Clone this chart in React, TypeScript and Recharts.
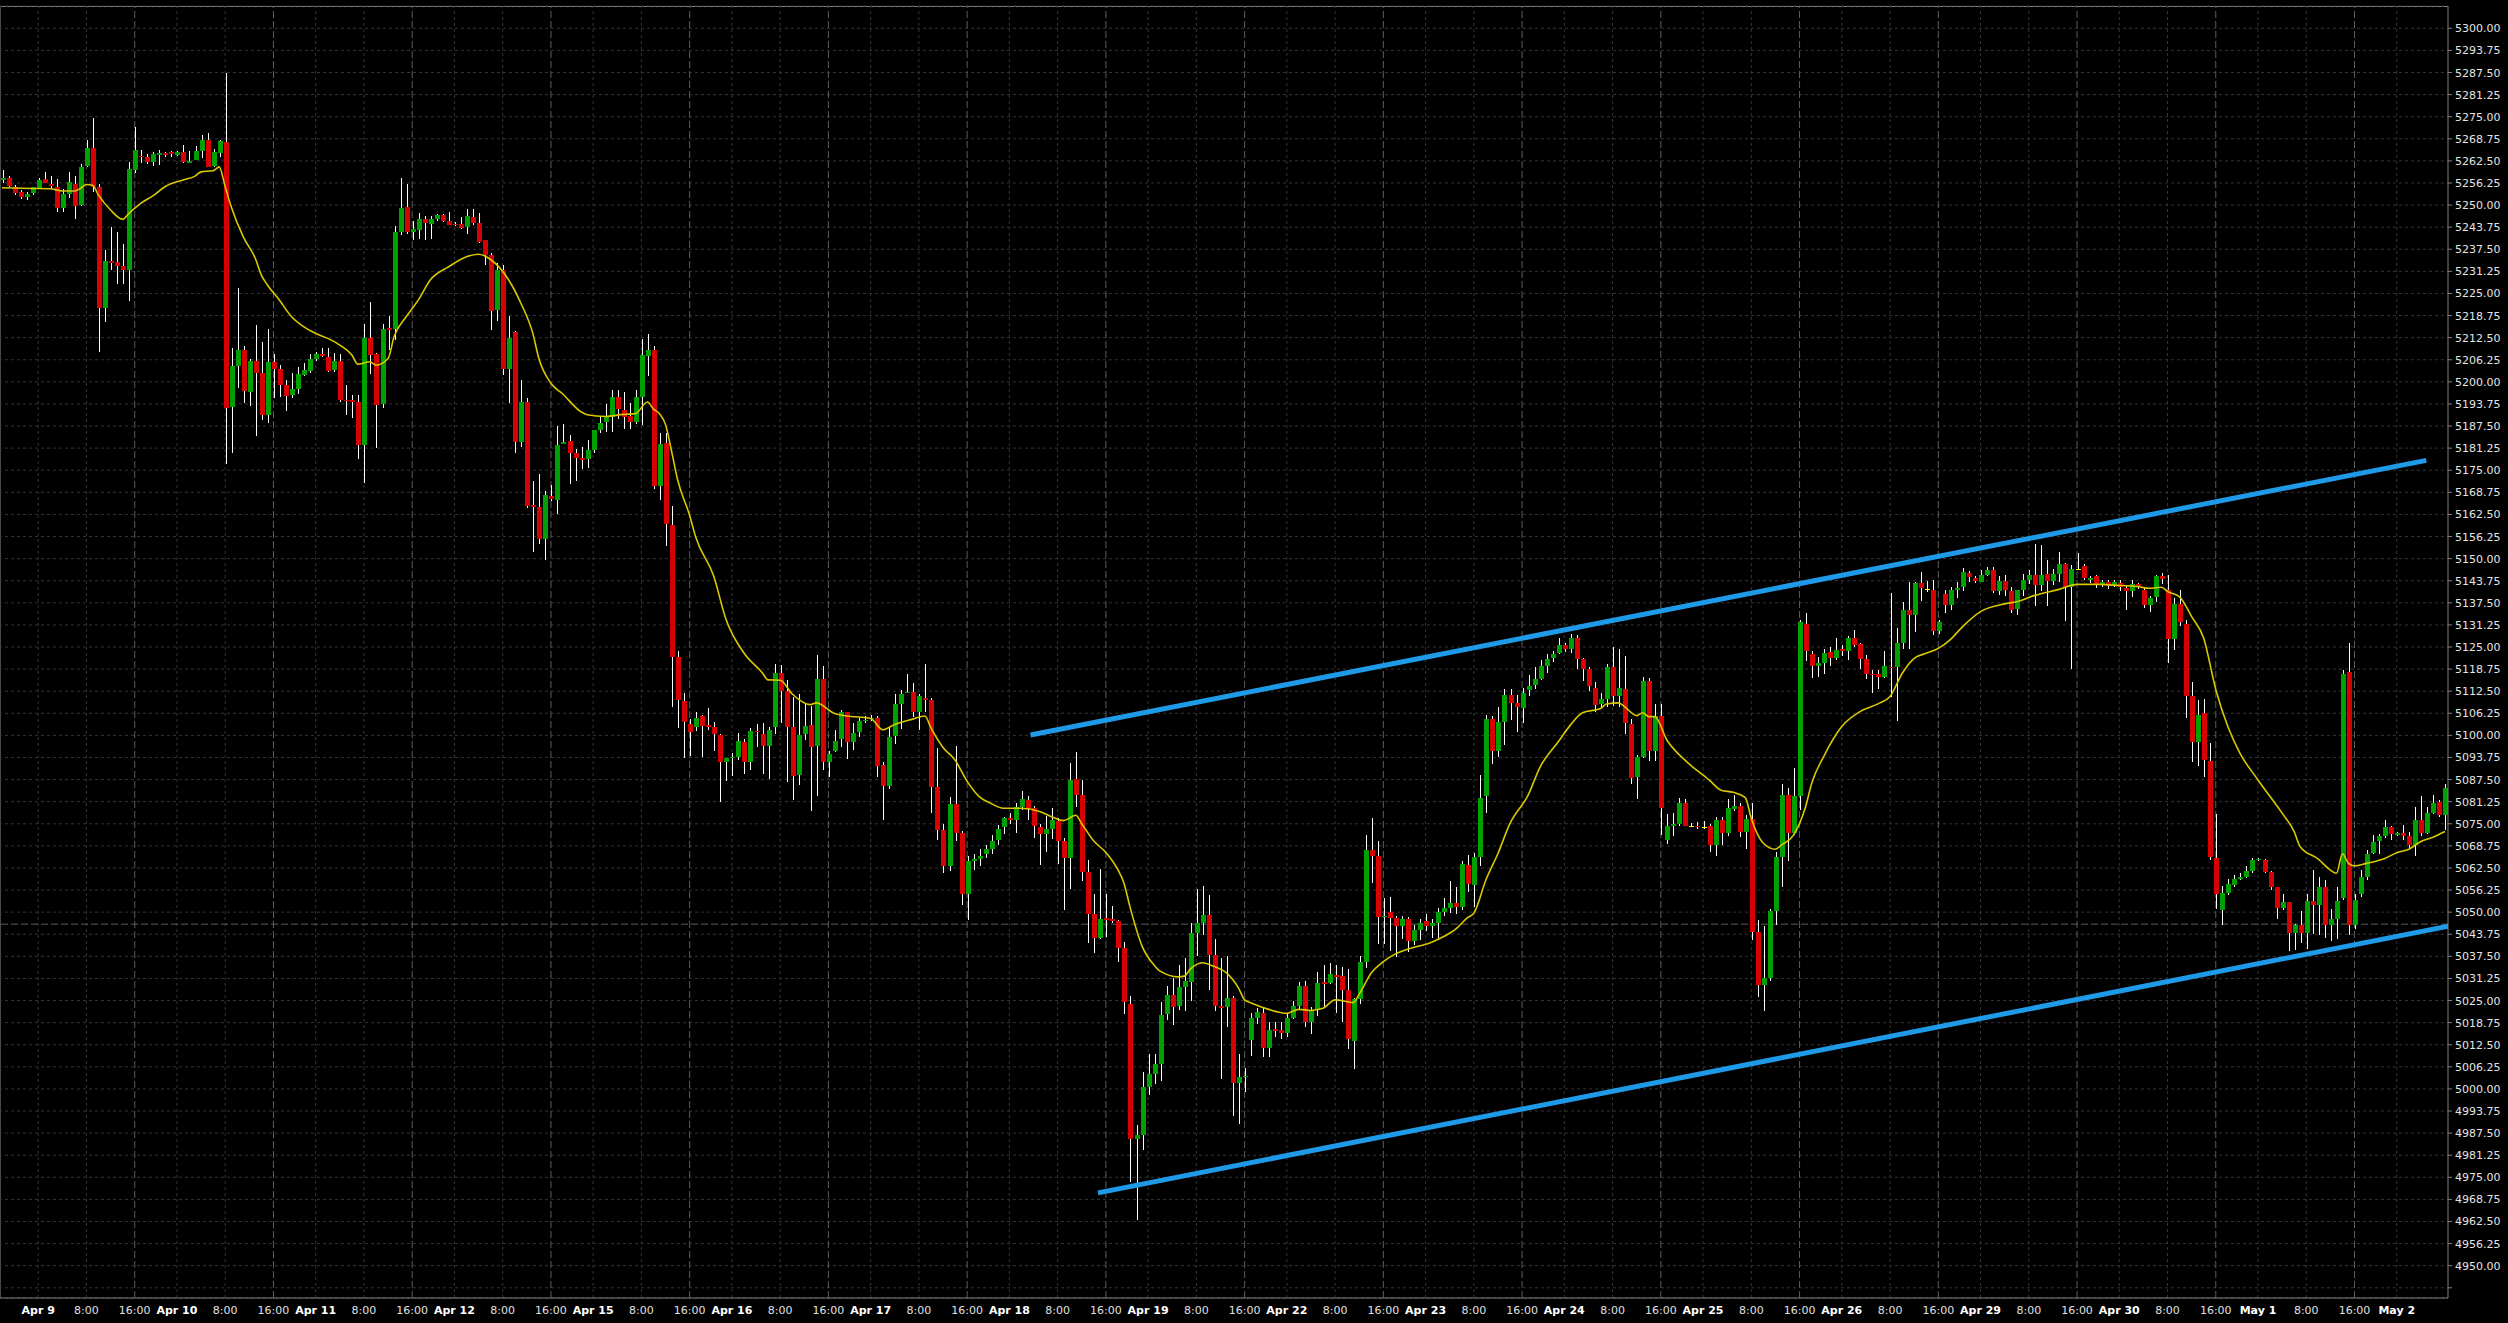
import {
  ComposedChart,
  Bar,
  Line,
  XAxis,
  YAxis,
  CartesianGrid,
  ReferenceLine,
} from "recharts";

// hourly bars, 23 per session; bars 0..5 are Apr 8 18:00-23:00
const DAYS = [
  "Apr 9", "Apr 10", "Apr 11", "Apr 12", "Apr 15", "Apr 16", "Apr 17", "Apr 18", "Apr 19",
  "Apr 22", "Apr 23", "Apr 24", "Apr 25", "Apr 26", "Apr 29", "Apr 30", "May 1", "May 2",
];
const FIRST_MIDNIGHT = 6;
const BARS_PER_DAY = 23;

// [open, high, low, close]
const CANDLES: [number, number, number, number][] = [
  // Apr 8 evening
  [5257, 5260, 5256.25, 5257.75], [5257.75, 5258.25, 5255.25, 5255.5], [5255.25, 5255.75, 5253, 5253.5],
  [5253.75, 5254.25, 5251.75, 5252.25], [5252.25, 5253.75, 5251.5, 5253], [5253.5, 5255.25, 5253, 5255],
  // Apr 9
  [5254.75, 5257.75, 5254.5, 5257], [5257.25, 5259.25, 5256, 5256.25], [5256, 5258.25, 5254.5, 5255.5],
  [5255.25, 5257.5, 5248.25, 5249.25], [5249.25, 5254.5, 5248, 5253.25], [5253.25, 5259.25, 5252, 5256.5],
  [5256, 5258.25, 5246, 5249.75], [5250, 5261.5, 5249.75, 5260.75], [5261, 5268.5, 5260.75, 5266.25],
  [5266.25, 5274.5, 5253.5, 5255.25], [5255.25, 5256, 5208.5, 5221], [5220.75, 5237.25, 5217, 5234.25],
  [5234.25, 5243.75, 5231.5, 5233.75], [5234, 5242.5, 5227.75, 5232.75], [5232.75, 5239, 5227.75, 5231.5],
  [5231.5, 5262.25, 5223, 5260.25], [5260, 5272, 5259, 5265.5], [5264, 5265.5, 5261.75, 5263.5],
  [5263.5, 5264.5, 5261.75, 5262.25], [5262.25, 5265, 5261, 5264.5], [5264.25, 5265.5, 5261.25, 5264.75],
  [5264.75, 5265, 5263.5, 5264.25], [5265, 5265.25, 5263.5, 5264.5],
  // Apr 10
  [5264.25, 5265.25, 5263.75, 5265], [5265, 5267, 5262, 5262.25], [5262, 5265.25, 5262, 5262.5],
  [5262.75, 5266.75, 5262.75, 5265.25], [5265.25, 5269.75, 5263.25, 5268.5], [5268.5, 5270.25, 5260.5, 5260.75],
  [5261, 5265.75, 5260.75, 5265], [5264.75, 5268.5, 5263.75, 5268], [5267.75, 5287.5, 5177, 5192.5],
  [5192.75, 5209.5, 5179.75, 5204.5], [5204.5, 5226.5, 5198.25, 5209], [5209, 5210, 5194, 5197.5],
  [5197.25, 5206.5, 5193.25, 5206], [5206, 5216, 5184.5, 5202.5], [5202.5, 5211.25, 5189.25, 5190.5],
  [5190.5, 5215, 5188.5, 5205.5], [5205.5, 5207.75, 5195.25, 5203.5], [5203.5, 5204.75, 5195.75, 5199],
  [5199, 5200.5, 5191.75, 5196], [5196.25, 5202.5, 5195.5, 5198], [5198, 5204.25, 5196.75, 5202.25],
  [5202, 5205.25, 5201.5, 5203.25], [5203, 5208, 5202.5, 5206.5],
  // Apr 11
  [5206.5, 5208.5, 5206, 5208], [5208, 5209.5, 5207, 5207.25], [5207, 5209.5, 5202.75, 5203],
  [5203.25, 5208.25, 5203, 5206], [5206, 5208, 5194.5, 5194.75], [5195, 5199, 5190.5, 5194.5],
  [5194.75, 5196.25, 5189.75, 5194.25], [5194.25, 5196.25, 5178.25, 5182], [5182, 5216.25, 5171.25, 5212.5],
  [5212.5, 5222.5, 5202, 5207.5], [5208, 5208.25, 5181.5, 5193.5], [5193.75, 5216.5, 5192.75, 5215],
  [5215.25, 5218.5, 5209, 5214.75], [5215, 5244, 5211.75, 5242.5], [5242.5, 5257.75, 5241.5, 5249.25],
  [5249.5, 5256, 5241.75, 5242.5], [5242.5, 5245.5, 5240, 5243.25], [5243, 5247.75, 5240.5, 5246],
  [5246, 5247, 5240.25, 5245], [5244.75, 5247, 5240.5, 5246], [5246, 5247.5, 5245.5, 5247.25],
  [5247.25, 5247.5, 5245.25, 5245.5], [5245.5, 5248, 5244.25, 5244.25],
  // Apr 12
  [5244.75, 5245.25, 5244, 5244.25], [5244.75, 5246.75, 5243.25, 5243.5], [5243.75, 5248.75, 5241.75, 5247],
  [5246.5, 5249, 5244.5, 5245], [5245, 5247.75, 5239.25, 5239.5], [5240, 5240.25, 5233.25, 5236],
  [5236, 5236.5, 5214.75, 5220], [5220.25, 5233.5, 5217, 5231.5], [5231.5, 5233, 5202, 5203.5],
  [5203.5, 5218.75, 5194.25, 5212.5], [5214, 5214.25, 5179.75, 5183], [5183, 5200.5, 5181.5, 5194.25],
  [5194.25, 5195.5, 5164.25, 5165], [5165.25, 5172, 5152, 5164.5], [5164.5, 5174, 5154.25, 5155.5],
  [5155.5, 5169.25, 5149.75, 5168], [5167.75, 5170.75, 5166.25, 5167], [5166.5, 5187.5, 5162.5, 5182.25],
  [5182.5, 5188, 5182.25, 5183], [5183.25, 5185, 5171.25, 5179.75], [5180, 5181, 5172, 5178.5],
  [5178.5, 5181.5, 5175.25, 5178], [5178.25, 5183.5, 5175.5, 5180.75],
  // Apr 15
  [5180.75, 5186.5, 5180, 5186.5], [5186.5, 5190, 5185.5, 5188.5], [5188.75, 5193.75, 5185.75, 5190],
  [5190, 5197.75, 5186, 5195.75], [5195.75, 5197.75, 5189.5, 5192.25], [5192, 5197, 5186.5, 5190],
  [5190.25, 5194, 5186.75, 5188.75], [5188.75, 5197.75, 5188, 5195.75], [5195.75, 5212.25, 5188, 5207.5],
  [5207.25, 5213.5, 5201.75, 5209], [5209, 5210.25, 5169.75, 5170.5], [5170.5, 5185.5, 5166.5, 5182.5],
  [5182.75, 5185.5, 5153.5, 5159.75], [5159.5, 5165, 5108.25, 5122.25], [5122.25, 5123.75, 5102, 5110],
  [5109.75, 5112, 5093.75, 5103.75], [5103.25, 5104.5, 5094, 5101], [5102.5, 5106.5, 5101, 5105],
  [5105.5, 5105.75, 5094, 5102.75], [5103, 5107.75, 5101.5, 5102.5], [5102.5, 5103.75, 5095.5, 5100.5],
  [5100, 5100.5, 5081.25, 5092.5], [5092.5, 5093.5, 5087, 5093.5],
  // Apr 16
  [5093.5, 5095, 5088.5, 5093.75], [5093.75, 5100.75, 5093, 5098.5], [5098, 5099, 5089, 5092.5],
  [5092.5, 5102, 5090, 5101.25], [5101.25, 5103.25, 5096.75, 5101], [5100.5, 5103.5, 5089, 5097],
  [5097, 5102.5, 5087.75, 5101.5], [5102.5, 5120.25, 5100.5, 5117.75], [5117.75, 5120, 5103.5, 5112.5],
  [5112.5, 5115.75, 5087, 5102.5], [5102.25, 5110.75, 5081.5, 5088.5], [5088.75, 5111.75, 5086, 5100],
  [5100.25, 5108.75, 5098.5, 5102.75], [5103, 5108.25, 5078.5, 5096.75], [5097, 5122.75, 5083, 5116],
  [5116, 5119.5, 5090, 5092.5], [5092.5, 5095.5, 5088.25, 5094.75], [5095.5, 5101.5, 5095.25, 5098.5],
  [5099, 5107.25, 5096.75, 5106.5], [5106.5, 5106.75, 5093.5, 5098.25], [5098, 5103.5, 5095.75, 5100.75],
  [5101, 5105, 5099.75, 5104], [5104, 5105.5, 5103.5, 5104.25],
  // Apr 17
  [5104.5, 5105.75, 5104, 5105], [5105, 5105.5, 5088.25, 5091.25], [5091.5, 5092.5, 5076, 5085.75],
  [5085.75, 5102.5, 5085, 5099.5], [5099.75, 5111.75, 5097.5, 5109], [5109, 5112.75, 5101.75, 5111.75],
  [5112, 5117.25, 5111.75, 5112.25], [5112.25, 5114.75, 5105, 5106.75], [5106.75, 5111.75, 5101.5, 5111],
  [5110.5, 5120.25, 5106.75, 5110], [5110, 5110.5, 5078, 5085.5], [5085.5, 5096.5, 5070.5, 5073.25],
  [5073.25, 5075, 5061, 5063], [5063, 5082.5, 5061.5, 5080.5], [5080.5, 5097, 5070, 5072.5],
  [5072.25, 5073, 5052, 5055], [5055, 5066, 5048, 5064.5], [5064.5, 5066.5, 5062, 5065],
  [5065, 5067.75, 5063, 5066], [5066.5, 5069, 5065.25, 5067.75], [5067.75, 5071.75, 5066.5, 5070],
  [5070.5, 5074.75, 5069, 5073.5], [5074, 5077, 5072.25, 5076.5],
  // Apr 18
  [5076.5, 5078, 5075, 5076], [5076, 5081, 5072.5, 5079.75], [5079.75, 5084.25, 5079, 5082],
  [5081.75, 5082.75, 5076, 5079.5], [5079.5, 5080, 5071, 5074.25], [5074, 5075, 5063.5, 5072],
  [5072, 5077.25, 5067, 5073.5], [5073.5, 5079.5, 5070.75, 5076], [5075.75, 5076.5, 5063.5, 5070],
  [5070, 5071, 5050.5, 5065.25], [5065.25, 5092.25, 5056.5, 5087.5], [5087.75, 5095.25, 5079.75, 5083],
  [5083, 5087.5, 5059, 5061.25], [5061.25, 5064.75, 5041.25, 5049.5], [5049.5, 5055, 5038.25, 5042.75],
  [5042.75, 5062.25, 5042.5, 5048], [5048.25, 5055.25, 5043, 5047.75], [5048, 5051.75, 5047, 5047.5],
  [5047.5, 5047.75, 5035.75, 5040], [5040, 5041.5, 5021, 5024.5], [5024, 5026.25, 4973.5, 4985.75],
  [4985.75, 4989.75, 4963, 4987], [4987, 5004.75, 4982.75, 5000.5],
  // Apr 19
  [5000.5, 5010, 4998.5, 5004.25], [5004.25, 5010, 5001.5, 5007], [5007, 5024.5, 5002.25, 5021],
  [5021.25, 5029.25, 5019.5, 5026.5], [5026.5, 5031.25, 5018, 5023.25], [5023.5, 5035, 5022.25, 5028.75],
  [5028.75, 5037, 5022, 5030.5], [5030.25, 5047, 5025, 5044], [5044, 5056.5, 5037.5, 5047],
  [5047, 5057.5, 5043.5, 5049.25], [5049.25, 5054.75, 5028, 5038], [5038, 5042.5, 5022.25, 5023.5],
  [5023.5, 5037, 5002.75, 5023], [5023.25, 5037.5, 5017.5, 5025.75], [5025.75, 5026.25, 4992.25, 5001.75],
  [5001.75, 5010, 4990.25, 5003.25], [5003.25, 5006, 4999.25, 5003.75], [5013.75, 5021.5, 5009.25, 5020],
  [5020, 5023, 5018.5, 5021.75], [5021.5, 5023, 5009, 5011.5], [5011.5, 5019, 5009, 5016.75],
  [5017, 5019, 5014.75, 5016.5], [5016.75, 5019, 5014.25, 5015.75],
  // Apr 22
  [5015.75, 5021.5, 5014.75, 5020], [5020, 5024.75, 5019.75, 5023.5], [5023.5, 5030.25, 5022.5, 5029.25],
  [5029.25, 5030.5, 5017.5, 5019], [5019, 5023.25, 5015.5, 5022.25], [5022.25, 5033, 5020.5, 5030],
  [5030.25, 5035, 5022.75, 5029.75], [5030, 5035.75, 5029.75, 5032.5], [5032.25, 5035, 5021.5, 5031.75],
  [5032, 5034.5, 5019, 5028], [5028, 5034, 5011.25, 5014], [5013.5, 5025.75, 5005.75, 5025.5],
  [5025.5, 5037.5, 5024, 5036], [5036, 5071.75, 5034, 5067.5], [5067.5, 5076.75, 5058.5, 5066],
  [5066, 5070, 5040.75, 5048.75], [5048.75, 5054, 5041, 5049], [5050, 5054.25, 5039, 5048.25],
  [5048.25, 5049, 5037.5, 5046], [5046, 5049, 5042.5, 5048], [5048, 5048.75, 5038.75, 5041.75],
  [5041.75, 5046.25, 5040.5, 5045], [5045, 5048, 5042, 5047],
  // Apr 23
  [5047.5, 5049.5, 5044.75, 5046], [5046, 5048, 5042.5, 5047], [5047, 5051.25, 5042.25, 5050],
  [5050, 5054, 5049, 5051.25], [5051.25, 5058.75, 5049.75, 5052.5], [5052.5, 5057.25, 5049.5, 5051.5],
  [5051.5, 5064.5, 5050.75, 5063.75], [5063.25, 5066.25, 5055.75, 5058], [5057.75, 5066.75, 5051.5, 5065.5],
  [5065.5, 5088.75, 5063, 5082.25], [5082.75, 5105.75, 5078, 5104.5], [5104.5, 5105.5, 5092, 5095.5],
  [5095.5, 5108, 5093.75, 5103.75], [5103.75, 5113, 5097.25, 5111.5], [5111.5, 5113, 5104.25, 5109.25],
  [5109.25, 5111.5, 5101, 5108], [5107.75, 5113.5, 5103.5, 5112], [5112.75, 5117, 5111, 5114],
  [5114.25, 5119.25, 5113, 5116], [5116, 5121.25, 5115.5, 5119.5], [5119.5, 5123, 5117.75, 5121.5],
  [5122, 5124, 5121, 5123], [5123.25, 5127.5, 5123, 5125.5],
  // Apr 24
  [5125.5, 5126, 5123.5, 5124.5], [5124.5, 5128.75, 5123.5, 5127.5], [5127.5, 5128.5, 5119, 5121.5],
  [5121.5, 5122, 5115.5, 5118.75], [5118.75, 5119.25, 5112.5, 5114], [5113.5, 5115, 5106.5, 5108.5],
  [5109, 5112, 5107.75, 5110.25], [5110.25, 5120.25, 5108, 5119.25], [5119.25, 5125, 5108.25, 5111],
  [5111, 5124.5, 5108, 5113.5], [5113.25, 5122.5, 5100.5, 5103.5], [5103.25, 5104.75, 5086.5, 5088],
  [5088.25, 5094.5, 5082, 5093.75], [5094, 5116.5, 5093.5, 5115.5], [5115.5, 5116.25, 5092.75, 5095.5],
  [5095.5, 5109, 5093, 5105.5], [5105.5, 5109, 5072, 5079.5], [5070.5, 5077.75, 5069.25, 5074.25],
  [5074.25, 5078, 5071.5, 5075], [5075, 5082.25, 5074.25, 5080.75], [5080.75, 5082, 5074.25, 5074.5],
  [5074.5, 5075.25, 5074.25, 5074.5], [5074.5, 5075.5, 5073.5, 5074],
  // Apr 25
  [5074, 5075.75, 5073.5, 5074], [5074.25, 5075, 5067, 5069], [5069, 5077, 5066, 5076],
  [5076, 5077, 5069, 5072.5], [5072.5, 5082, 5071.5, 5079.5], [5079.25, 5083, 5078.5, 5080],
  [5080, 5080.75, 5071, 5072.75], [5072.75, 5077.5, 5068, 5076.25], [5076.25, 5080.75, 5042, 5044.5],
  [5044.5, 5047.75, 5026, 5029.5], [5029.5, 5046, 5022, 5031.5], [5031.5, 5051, 5030.5, 5050.25],
  [5050.25, 5067, 5046.25, 5065.5], [5065.5, 5086.25, 5057.25, 5083], [5083, 5085, 5064.25, 5072.5],
  [5072.5, 5090.75, 5071.75, 5082.75], [5082.75, 5132.5, 5078.75, 5132], [5131.5, 5134.75, 5121.25, 5123.75],
  [5123, 5124, 5116.5, 5119.5], [5119.5, 5122.25, 5116.5, 5120.5], [5120.5, 5124.5, 5117.5, 5123.25],
  [5123.5, 5125, 5119.5, 5121.75], [5121.75, 5127.5, 5121.25, 5124.25],
  // Apr 26
  [5124.5, 5125.5, 5122.25, 5124], [5124, 5128, 5121.25, 5127.5], [5127.5, 5129.75, 5125, 5125.5],
  [5125.75, 5126.25, 5119, 5121.5], [5121.5, 5122.75, 5116, 5117.5], [5117.5, 5118.5, 5112, 5117],
  [5117.5, 5118.5, 5113.25, 5116.5], [5116.5, 5123.75, 5116.25, 5119.5], [5119.25, 5140.25, 5110.75, 5119],
  [5119.25, 5130.25, 5104, 5126], [5126.25, 5137.75, 5124.5, 5135.5], [5135.5, 5143.5, 5124.5, 5134],
  [5134, 5143.25, 5129, 5143], [5143, 5146.25, 5138, 5141.75], [5141.5, 5143.75, 5140.75, 5141.5],
  [5141.25, 5144, 5128.5, 5129.5], [5129.5, 5132.5, 5128.5, 5132], [5140, 5141.25, 5134.75, 5137],
  [5137, 5142, 5135.5, 5141.25], [5141.25, 5143.25, 5138.75, 5141.75], [5142, 5147.25, 5140.75, 5146.25],
  [5146, 5146.5, 5143.25, 5144.75], [5144.5, 5145, 5143, 5143.75],
  // Apr 29
  [5143.5, 5146.75, 5143.25, 5145.5], [5145.5, 5147.5, 5145, 5146.75], [5146.75, 5147.75, 5140.5, 5140.75],
  [5140.75, 5145, 5139.75, 5143.75], [5143.75, 5145.5, 5139.5, 5141], [5140.75, 5142, 5134.75, 5135.5],
  [5135.75, 5141.25, 5134.25, 5141], [5141, 5145.75, 5139.5, 5144], [5144, 5146.75, 5142.75, 5145.5],
  [5145.5, 5154, 5136.5, 5142.5], [5142.5, 5153.75, 5140.75, 5145.5], [5145.75, 5149.5, 5136.5, 5143.75],
  [5143.75, 5147, 5142.5, 5145.75], [5145.75, 5152, 5143.5, 5148.5], [5148.5, 5148.75, 5132.25, 5142],
  [5142, 5148.25, 5118.75, 5147], [5147, 5151.5, 5146.75, 5147], [5148, 5148.5, 5144, 5144.5],
  [5144, 5145, 5143, 5144.5], [5145, 5145.25, 5141.5, 5142.5], [5142.5, 5144, 5142, 5143.25],
  [5143.25, 5144, 5141.5, 5142.25], [5142.25, 5144, 5142, 5143.25],
  // Apr 30
  [5143, 5144, 5140.75, 5142], [5141.75, 5142.5, 5135.5, 5140.75], [5140.75, 5144, 5139.25, 5142.75],
  [5142.75, 5143, 5141.25, 5142.25], [5141.25, 5142, 5136, 5137], [5137, 5139.5, 5135, 5138.75],
  [5139.25, 5145.5, 5138, 5145], [5145, 5146, 5143, 5144.25], [5141, 5145.5, 5120.5, 5127.25],
  [5127.25, 5138.75, 5124, 5137.25], [5137.25, 5141, 5130.75, 5132], [5131.5, 5132.5, 5104.75, 5111],
  [5111, 5115, 5092.5, 5098], [5098, 5110, 5091.25, 5105.75], [5106.25, 5110.25, 5088.25, 5093],
  [5092.75, 5097.75, 5064.75, 5065.5], [5065.25, 5077.75, 5051, 5055], [5050.5, 5057.5, 5046.5, 5055.5],
  [5055.5, 5059.5, 5055, 5058], [5057.75, 5060.5, 5057, 5059.5], [5059.5, 5061, 5059, 5060],
  [5060, 5063, 5059.5, 5061.5], [5061.5, 5065.25, 5061, 5064.75],
  // May 1
  [5064.75, 5065.25, 5064.5, 5065], [5064.75, 5065, 5061, 5061.25], [5061.25, 5061.5, 5056.25, 5057],
  [5057, 5057.25, 5048.25, 5051.25], [5051.25, 5055, 5050.5, 5053], [5052.75, 5053, 5039.25, 5044],
  [5044, 5046.75, 5039.5, 5046.5], [5046.5, 5050.25, 5041.25, 5044], [5044, 5055.25, 5039.75, 5053.25],
  [5053.25, 5062, 5044, 5052], [5052, 5060, 5043.5, 5057], [5057, 5059, 5042.5, 5046.25],
  [5046.5, 5051, 5042, 5048], [5048, 5057.25, 5042.5, 5053.25], [5054, 5118.5, 5053.5, 5117.5],
  [5118, 5126, 5043.5, 5046.25], [5046.25, 5055, 5045, 5053.5], [5055, 5062, 5054.5, 5060],
  [5060, 5067.5, 5059, 5066.5], [5066.75, 5071.75, 5066.25, 5069.75], [5070, 5072, 5066.25, 5071.5],
  [5071.5, 5076, 5071, 5074], [5074, 5074.5, 5070.5, 5072],
  // May 2
  [5071.75, 5072.75, 5071.5, 5072.25], [5072.25, 5074.75, 5070.5, 5071.5], [5071.5, 5072.75, 5068, 5069],
  [5069, 5079.75, 5065.75, 5076], [5076, 5082.75, 5071.5, 5072.25], [5072.25, 5079.75, 5072, 5078],
  [5078, 5083, 5077.5, 5080.75], [5081.25, 5081.75, 5077, 5077.5], [5077.5, 5086.25, 5073.25, 5085],
];

// moving average: [bar index, value]
const MA_POINTS: [number, number][] = [
  [0, 5254.9], [5, 5254.7], [8, 5254.6], [10, 5254.0], [12, 5254.0], [13, 5254.7], [14, 5255.8], [15, 5255.6],
  [16, 5252.8], [18, 5248.6], [20, 5246.0], [21, 5247.6], [23, 5250.5], [25, 5252.6], [27, 5255.2], [30, 5257.1],
  [32, 5258.2], [33, 5259.4], [35, 5259.7], [36, 5260.8], [37, 5255.2], [38, 5249.5], [40, 5241.0], [42, 5234.9],
  [43, 5230.2], [44, 5227.4], [46, 5223.1], [48, 5218.4], [50, 5215.6], [52, 5213.7], [54, 5212.3], [56, 5210.4],
  [58, 5207.6], [59, 5205.0], [61, 5205.7], [62, 5204.7], [64, 5206.6], [65, 5212.8], [67, 5218.4], [69, 5223.1],
  [71, 5228.8], [74, 5232.5], [77, 5235.4], [79, 5236.1], [81, 5234.6], [84, 5228.8], [86, 5222.3], [88, 5213.7],
  [89, 5206.6], [91, 5199.6], [93, 5196.5], [96, 5191.5], [97, 5190.7], [100, 5190.2], [103, 5190.8], [105, 5191.0],
  [107, 5194.3], [108, 5192.3], [109, 5191.0], [110, 5187.9], [111, 5180.4], [112, 5172.3], [114, 5162.2],
  [115, 5156.1], [118, 5145.0], [120, 5132.9], [123, 5123.3], [126, 5117.8], [127, 5115.7], [129, 5115.6],
  [131, 5111.7], [134, 5108.7], [135, 5109.2], [138, 5106.2], [140, 5105.5], [144, 5104.8], [146, 5101.6],
  [148, 5103.1], [151, 5104.6], [153, 5105.5], [154, 5102.1], [156, 5096.6], [158, 5093.0], [160, 5087.0],
  [162, 5082.7], [164, 5080.7], [166, 5079.4], [169, 5079.4], [172, 5078.5], [174, 5077.0], [176, 5075.9],
  [178, 5077.4], [179, 5075.0], [181, 5070.1], [183, 5066.9], [185, 5062.0], [186, 5058.2], [187, 5051.5],
  [189, 5040.4], [191, 5035.0], [192, 5033.3], [195, 5031.7], [196, 5031.9], [197, 5033.9], [199, 5035.7],
  [201, 5034.6], [203, 5032.8], [205, 5028.5], [206, 5025.2], [207, 5024.4], [210, 5022.5], [213, 5021.4],
  [215, 5022.5], [217, 5022.2], [219, 5022.8], [221, 5025.2], [223, 5024.7], [224, 5024.4], [225, 5026.8],
  [227, 5032.8], [229, 5036.0], [231, 5038.2], [233, 5039.5], [237, 5041.5], [239, 5043.1], [241, 5045.2],
  [243, 5048.5], [244, 5049.7], [246, 5059.1], [248, 5066.6], [250, 5075.1], [253, 5083.1], [255, 5091.1],
  [258, 5098.2], [260, 5102.9], [262, 5106.4], [265, 5107.6], [266, 5108.9], [268, 5109.2], [269, 5108.1],
  [271, 5105.6], [272, 5106.4], [273, 5105.3], [274, 5105.3], [276, 5098.7], [279, 5093.0], [283, 5087.4],
  [285, 5084.5], [287, 5083.9], [289, 5082.4], [290, 5076.5], [292, 5069.5], [294, 5067.8], [295, 5069.0],
  [297, 5071.8], [299, 5079.8], [300, 5086.4], [302, 5094.0], [305, 5102.5], [308, 5106.7], [311, 5108.9],
  [313, 5111.0], [315, 5117.5], [317, 5121.8], [319, 5123.2], [321, 5124.6], [323, 5127.1], [325, 5130.7],
  [328, 5135.0], [332, 5137.2], [334, 5137.8], [337, 5139.6], [341, 5141.3], [344, 5142.7], [348, 5142.7],
  [350, 5142.5], [354, 5142.1], [356, 5141.6], [358, 5141.9], [359, 5140.7], [361, 5139.2], [363, 5133.6],
  [365, 5127.5], [367, 5113.0], [369, 5102.5], [371, 5095.0], [374, 5087.4], [378, 5078.0], [380, 5072.8],
  [381, 5068.5], [384, 5065.0], [386, 5061.9], [387, 5061.0], [388, 5066.5], [389, 5063.8], [390, 5063.1],
  [392, 5063.8], [395, 5065.2], [397, 5066.8], [399, 5067.8], [401, 5070.0], [403, 5071.2], [405, 5072.8],
];

const Y_TICKS = [
  4943.75, 4950, 4956.25, 4962.5, 4968.75, 4975, 4981.25, 4987.5, 4993.75, 5000, 5006.25, 5012.5,
  5018.75, 5025, 5031.25, 5037.5, 5043.75, 5050, 5056.25, 5062.5, 5068.75, 5075, 5081.25, 5087.5,
  5093.75, 5100, 5106.25, 5112.5, 5118.75, 5125, 5131.25, 5137.5, 5143.75, 5150, 5156.25, 5162.5,
  5168.75, 5175, 5181.25, 5187.5, 5193.75, 5200, 5206.25, 5212.5, 5218.75, 5225, 5231.25, 5237.5,
  5243.75, 5250, 5256.25, 5262.5, 5268.75, 5275, 5281.25, 5287.5, 5293.75, 5300,
];
const Y_DOMAIN: [number, number] = [4940.86, 5306.31];

// channel drawn on the chart (bar index, price)
const UPPER_CHANNEL = [{ x: 170.5, y: 5100.1 }, { x: 401.9, y: 5177.8 }];
const LOWER_CHANNEL = [{ x: 181.7, y: 4970.6 }, { x: 405.7, y: 5046.1 }];
const PRICE_LINE = 5046.6;

const BULL = "#00a000";
const BEAR = "#d80000";
const DOJI = "#ffff00";
const WICK = "#ffffff";
const AXIS = "#808080";
const FONT = "DejaVu Sans, Verdana, sans-serif";

type TimeTick = { label: string; bold: boolean; session: boolean };
const TIME_TICKS = new Map<number, TimeTick>();
DAYS.forEach((day, k) => {
  const start = FIRST_MIDNIGHT + k * BARS_PER_DAY;
  TIME_TICKS.set(start, { label: day, bold: true, session: false });
  if (start + 8 < CANDLES.length - 1) TIME_TICKS.set(start + 8, { label: "8:00", bold: false, session: false });
  if (start + 16 < CANDLES.length - 1) TIME_TICKS.set(start + 16, { label: "16:00", bold: false, session: true });
});

const maByIndex = new Map(MA_POINTS);
const rows = CANDLES.map(([o, h, l, c], i) => ({
  i,
  o,
  h,
  l,
  c,
  range: [l, h],
  ma: maByIndex.get(i) ?? null,
}));

function Candle(props: any) {
  const { x, y, width, height, payload } = props;
  if (x == null || payload == null) return null;
  const { o, h, l, c } = payload;
  const top = Math.min(y, y + height);
  const span = Math.abs(height);
  const k = h > l ? span / (h - l) : 0;
  const py = (v: number) => top + (h - v) * k;
  const cx = Math.round(x + width / 2);
  const bTop = Math.round(py(Math.max(o, c)));
  const bBot = Math.round(py(Math.min(o, c)));
  const fill = c > o ? BULL : c < o ? BEAR : DOJI;
  return (
    <g shapeRendering="crispEdges">
      <rect x={cx} y={Math.round(top)} width={1} height={Math.max(1, Math.round(span))} fill={WICK} />
      <rect x={cx - 2} y={bTop} width={5} height={Math.max(1, bBot - bTop)} fill={fill} />
    </g>
  );
}

function PriceTick({ x, y, payload }: any) {
  if (payload.value < 4945) return <g />;
  return (
    <text x={x} y={y + 4} fill="#e4e4e4" fontSize={11} fontFamily={FONT} textAnchor="start">
      {Number(payload.value).toFixed(2)}
    </text>
  );
}

function TimeLabel({ x, y, payload }: any) {
  const t = TIME_TICKS.get(payload.value);
  if (!t) return <g />;
  return (
    <text
      x={x}
      y={y + 16}
      fill={t.bold ? "#ffffff" : "#e0e0e0"}
      fontSize={11}
      fontWeight={t.bold ? "bold" : "normal"}
      fontFamily={FONT}
      textAnchor="middle"
    >
      {t.label}
    </text>
  );
}

export default function App() {
  return (
    <div
      style={{
        position: "fixed",
        left: 0,
        top: 0,
        width: 2508,
        height: 1323,
        background: "#000",
        overflow: "hidden",
      }}
    >
      <div style={{ position: "absolute", left: 0, top: 6, width: 2448, height: 1, background: AXIS }} />
      <div style={{ position: "absolute", left: 0, top: 6, width: 1, height: 1292, background: "#4a4a4a" }} />
      <div style={{ position: "absolute", left: -1, top: 0 }}>
        <ComposedChart
          width={2510}
          height={1323}
          data={rows}
          margin={{ top: 6, right: 0, bottom: 0, left: 0 }}
        >
          <CartesianGrid stroke="#343434" strokeDasharray="3 3" vertical={false} />
          <XAxis
            dataKey="i"
            height={25}
            interval={0}
            tickLine={false}
            tickSize={0}
            tickMargin={0}
            axisLine={{ stroke: AXIS }}
            tick={<TimeLabel />}
          />
          <XAxis
            xAxisId="num"
            type="number"
            dataKey="i"
            domain={[-0.5, CANDLES.length - 0.5]}
            hide
          />
          <YAxis
            orientation="right"
            width={61}
            domain={Y_DOMAIN}
            allowDataOverflow
            ticks={Y_TICKS}
            interval={0}
            tickSize={4}
            tickMargin={3}
            tickLine={{ stroke: AXIS }}
            axisLine={{ stroke: AXIS }}
            tick={<PriceTick />}
          />
          {[...TIME_TICKS].map(([i, t]) => (
            <ReferenceLine
              key={`v-${i}`}
              x={i}
              stroke={t.session ? "#5c5c5c" : "#343434"}
              strokeDasharray={t.session ? "7 3" : "3 3"}
              zIndex={-100}
            />
          ))}
          <ReferenceLine y={PRICE_LINE} stroke="#5c5c5c" strokeDasharray="7 3" zIndex={-100} />
          <Bar
            dataKey="range"
            barSize={5}
            shape={(p: any) => <Candle {...p} />}
            isAnimationActive={false}
          />
          <Line
            dataKey="ma"
            type="monotone"
            stroke="#d8c800"
            strokeWidth={1.6}
            dot={false}
            activeDot={false}
            connectNulls
            isAnimationActive={false}
          />
          <ReferenceLine
            xAxisId="num"
            segment={UPPER_CHANNEL}
            stroke="#1e9ae8"
            strokeWidth={5}
            ifOverflow="hidden"
          />
          <ReferenceLine
            xAxisId="num"
            segment={LOWER_CHANNEL}
            stroke="#1e9ae8"
            strokeWidth={5}
            ifOverflow="hidden"
          />
        </ComposedChart>
      </div>
    </div>
  );
}
